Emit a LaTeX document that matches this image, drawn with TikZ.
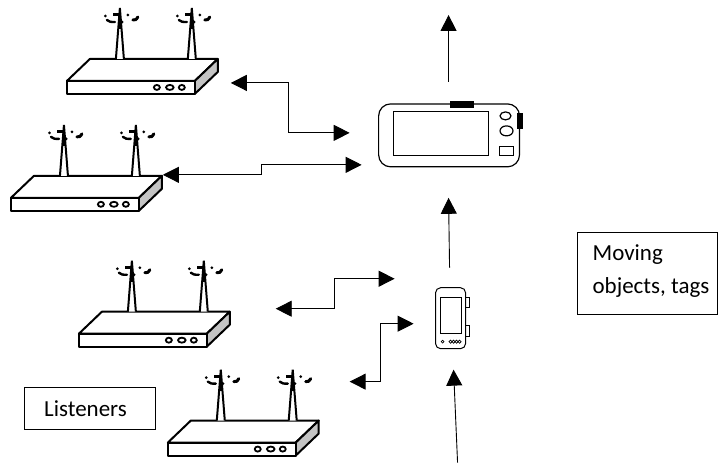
\documentclass[tikz,border=0pt]{standalone}
\usepackage{fontspec}
\setmainfont{Carlito}
\usetikzlibrary{arrows.meta,positioning,calc}
\definecolor{sidegray}{HTML}{C4C4C4}

\begin{document}
\begin{tikzpicture}[
    x=1pt, y=-1pt,
    link/.style={{Triangle[length=16pt,width=16pt]}-{Triangle[length=16pt,width=16pt]}, line width=0.9pt},
    uplink/.style={-{Triangle[length=16pt,width=16pt]}, line width=0.9pt},
    label/.style={inner sep=0pt, font=\fontsize{23}{33}\selectfont, align=left},
    labelbox/.style={draw, line width=0.7pt, anchor=north west, inner sep=0pt},
    mast/.pic={
        \draw[line width=2pt, fill=white] (-4,0) -- (0,-51) -- (4,0);
        \draw[line width=2pt] (0,-51) -- (0,-30);
        \fill (-7,-46) rectangle (-1,-43);
        \fill (-14.5,-43) circle (1.5);
        \fill (8,-44) circle (1.5);
        \fill (2,-37) circle (1.8);
        \draw[line width=2.4pt, line cap=round] (-13,-39) .. controls (-10,-37) .. (-5,-37);
        \draw[line width=3pt, line cap=round] (13,-39) .. controls (16,-39) .. (18,-42);
    },
    router/.pic={
        \draw[line width=2pt, fill=white, line join=round] (0,0) -- (23,-22) -- (151,-22) -- (128,0) -- cycle;
        \draw[line width=2pt, fill=sidegray, line join=round] (151,-22) -- (151,-9) -- (128,13) -- (128,0) -- cycle;
        \draw[line width=2pt, fill=white, line join=round] (0,0) rectangle (128,13);
        \draw[line width=1.8pt] (90,6.5) circle [x radius=3, y radius=2.5];
        \draw[line width=1.8pt] (103,6.5) circle [x radius=3.8, y radius=2.5];
        \draw[line width=1.8pt] (115,6.5) circle [x radius=3, y radius=2.5];
        \pic at (53,-22) {mast};
        \pic at (125,-22) {mast};
    }
]

% --- listeners ---
\pic at (67,81) {router};
\pic at (11,198) {router};
\pic at (79,334) {router};
\pic at (168,443) {router};

% --- reader ---
\draw[line width=1.2pt, rounded corners=12pt] (379,104) rectangle (520,167);
\draw[line width=1.2pt] (394,112) rectangle (489,156);
\fill (450,101) rectangle (474,108);
\fill (517,113) rectangle (523,129);
\draw[line width=1.2pt] (506,116) circle [x radius=5.5, y radius=4];
\draw[line width=1.2pt] (507,131) circle [x radius=6.5, y radius=5];
\draw[line width=1.2pt] (500,147) rectangle (514,156);

% --- tag ---
\draw[line width=1pt, rounded corners=5pt] (436,288) rectangle (466,349);
\draw[line width=1pt] (441,298) rectangle (462,334);
\draw[line width=0.8pt] (466,298) rectangle (470,308);
\draw[line width=0.8pt] (466,326) rectangle (470,337);
\draw[line width=0.7pt] (443,342) circle (1.4);
\foreach \i in {451,454,457,460} {
    \draw[line width=0.7pt] (\i,342) circle (1.6);
}

% --- labels ---
\node[labelbox, minimum width=140pt, minimum height=82pt] (movingbox) at (578,232) {};
\node[label, anchor=west] (moving) at (593,271) {Moving\\objects, tags};
\node[labelbox, minimum width=131pt, minimum height=42pt] (listenerbox) at (24,387) {};
\node[label, anchor=west] (listeners) at (44,409) {Listeners};

% --- ends ---
\coordinate (routerA) at (231,83);
\coordinate (routerB) at (163,175);
\coordinate (routerC) at (276,309);
\coordinate (routerD) at (350,382);
\coordinate (readerA) at (350,133);
\coordinate (readerB) at (362,165);
\coordinate (tagA) at (395,279);
\coordinate (tagB) at (414,324);
\coordinate (readerOut) at (449,82);
\coordinate (upTip) at (449,15);
\coordinate (tagOut) at (450,268);
\coordinate (readerIn) at (449,198);
\coordinate (tagStart) at (458,463);
\coordinate (tagIn) at (454,370);

% --- arrows ---
\draw[link] (routerA) -| (289,133) -- (readerA);
\draw[link] (routerB) -| (262,165) -- (readerB);
\draw[link] (routerC) -| (335,279) -- (tagA);
\draw[link] (routerD) -| (381,324) -- (tagB);
\draw[uplink] (readerOut) -- (upTip);
\draw[uplink] (tagOut) -- (readerIn);
\draw[uplink] (tagStart) -- (tagIn);

\useasboundingbox (0,0) rectangle (718,463);
\end{tikzpicture}
\end{document}
